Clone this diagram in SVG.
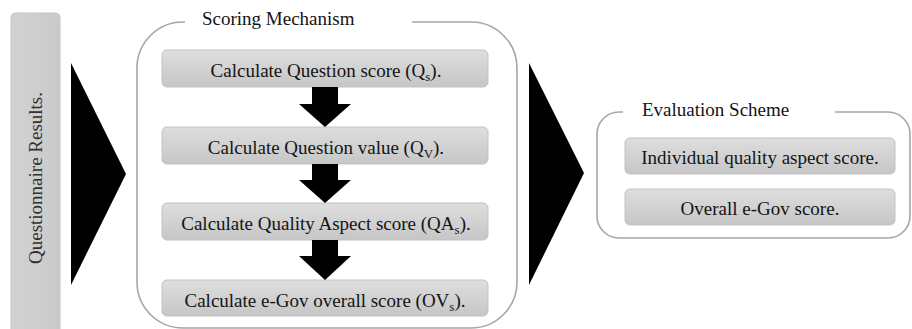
<svg xmlns="http://www.w3.org/2000/svg" width="912" height="329" viewBox="0 0 912 329">
  <defs>
    <linearGradient id="boxGrad" x1="0" y1="0" x2="0" y2="1">
      <stop offset="0" stop-color="#dedede"/>
      <stop offset="1" stop-color="#c6c6c6"/>
    </linearGradient>
    <linearGradient id="barGrad" x1="0" y1="0" x2="1" y2="0">
      <stop offset="0" stop-color="#d2d2d2"/>
      <stop offset="1" stop-color="#cacaca"/>
    </linearGradient>
  </defs>
  <style>
    .box { fill: url(#boxGrad); stroke: #c2c2c2; stroke-width: 1; }
    .frame { fill: none; stroke: #a6a6a6; stroke-width: 1.6; }
    text { font-family: "Liberation Serif", "DejaVu Serif", serif; font-size: 19px; fill: #141414; }
    .side { fill: #303030; }
    .sub { font-size: 13px; }
    .arrow { fill: #000; }
  </style>

  <g id="questionnaire-results">
    <path d="M11,331 V18 Q11,13 16,13 H55 Q60,13 60,18 V331 Z" fill="url(#barGrad)" stroke="#c4c4c4" stroke-width="1"/>
    <text class="side" font-family="Liberation Serif, serif" transform="translate(42,178) rotate(-90)" text-anchor="middle">Questionnaire Results.</text>
  </g>

  <g id="scoring-mechanism">
    <path class="frame" d="M185,22 H183 A46,46 0 0 0 137,68 V282 A46,46 0 0 0 183,328 H471 A46,46 0 0 0 517,282 V68 A46,46 0 0 0 471,22 H412"/>
    <text font-family="Liberation Serif, serif" x="202" y="25">Scoring Mechanism</text>
  </g>

  <g id="calc-question-score">
    <rect class="box" x="162" y="50" width="326" height="37" rx="5"/>
    <text font-family="Liberation Serif, serif" x="326" y="77" text-anchor="middle">Calculate Question score (Q<tspan class="sub" dy="4">s</tspan><tspan dy="-4">).</tspan></text>
  </g>

  <g id="calc-question-value">
    <rect class="box" x="162" y="127" width="326" height="37" rx="5"/>
    <text font-family="Liberation Serif, serif" x="326" y="154" text-anchor="middle">Calculate Question value (Q<tspan class="sub" dy="4">V</tspan><tspan dy="-4">).</tspan></text>
  </g>

  <g id="calc-quality-aspect-score">
    <rect class="box" x="162" y="203" width="326" height="37" rx="5"/>
    <text font-family="Liberation Serif, serif" x="326" y="230" text-anchor="middle">Calculate Quality Aspect score (QA<tspan class="sub" dy="4">s</tspan><tspan dy="-4">).</tspan></text>
  </g>

  <g id="calc-egov-overall-score">
    <rect class="box" x="162" y="280" width="326" height="36" rx="5"/>
    <text font-family="Liberation Serif, serif" x="325" y="307" text-anchor="middle">Calculate e-Gov overall score (OV<tspan class="sub" dy="4">s</tspan><tspan dy="-4">).</tspan></text>
  </g>

  <g id="evaluation-scheme">
    <path class="frame" d="M623,112 H619 A22,22 0 0 0 597,134 V216 A22,22 0 0 0 619,238 H888 A22,22 0 0 0 910,216 V134 A22,22 0 0 0 888,112 H835"/>
    <text font-family="Liberation Serif, serif" x="642" y="116">Evaluation Scheme</text>
  </g>

  <g id="individual-quality-aspect-score">
    <rect class="box" x="625" y="138" width="270" height="36" rx="5"/>
    <text font-family="Liberation Serif, serif" x="760" y="164" text-anchor="middle">Individual quality aspect score.</text>
  </g>

  <g id="overall-egov-score">
    <rect class="box" x="625" y="189" width="270" height="36" rx="5"/>
    <text font-family="Liberation Serif, serif" x="760" y="215" text-anchor="middle">Overall e-Gov score.</text>
  </g>

  <g id="connectors">
    <polygon class="arrow" points="71,63 126,174 71,285"/>
    <polygon class="arrow" points="529,63 584,173 529,285"/>
    <polygon class="arrow" points="312,87 338,87 338,104 351,104 325,127 299,104 312,104"/>
    <polygon class="arrow" points="312,164 338,164 338,180 351,180 325,203 299,180 312,180"/>
    <polygon class="arrow" points="312,240 338,240 338,256 351,256 325,280 299,256 312,256"/>
  </g>
</svg>
